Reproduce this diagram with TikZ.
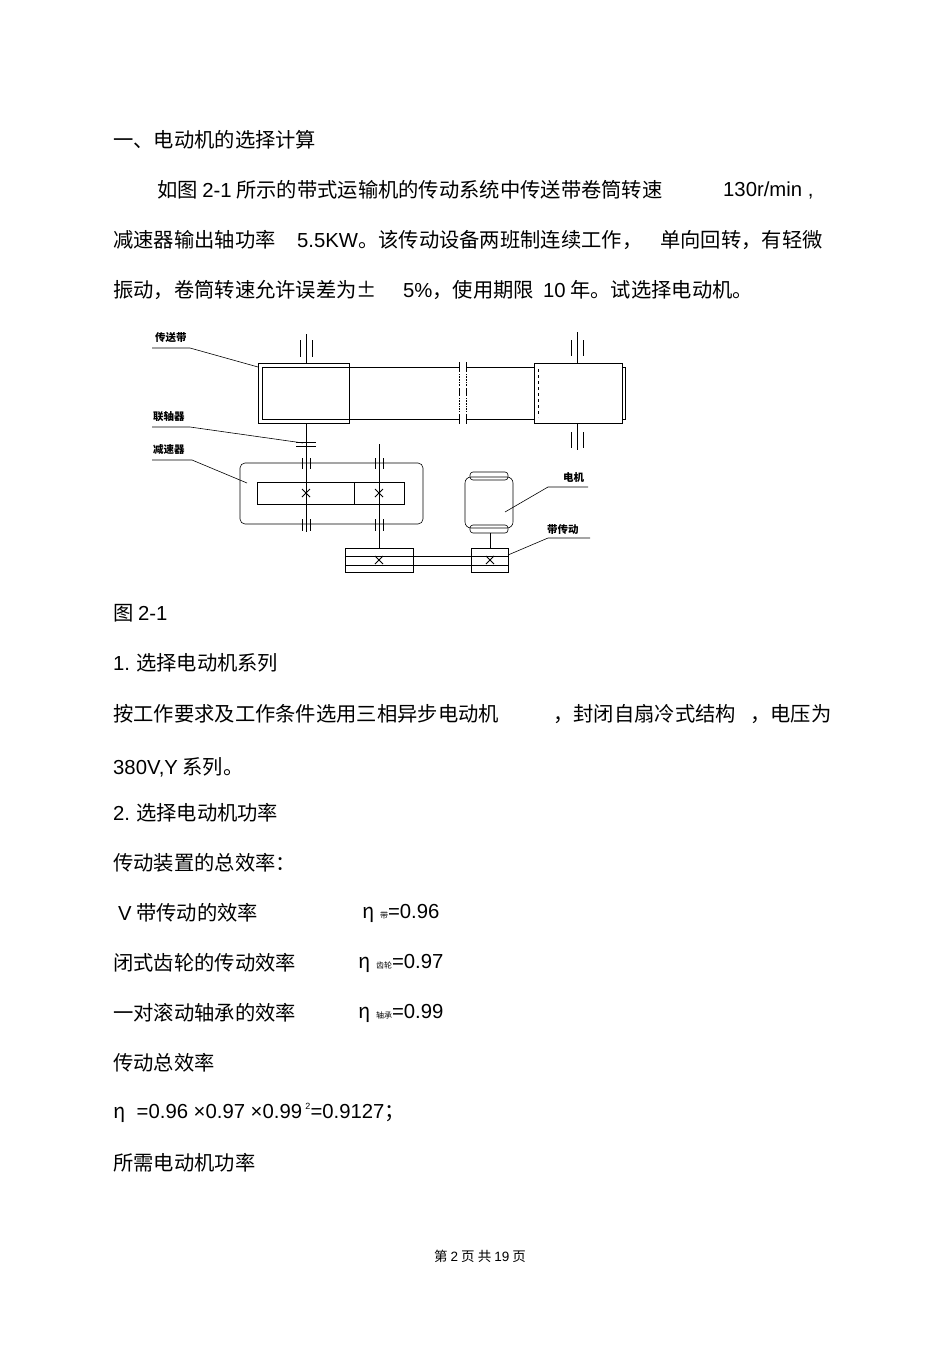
\documentclass[tikz,border=0pt]{standalone}
\usepackage{fontspec}
\setmainfont{Noto Sans CJK SC}
\newfontfamily\lat{Liberation Sans}
\begin{document}
\begin{tikzpicture}[x=1pt,y=-1pt,
  t/.style={anchor=west,inner sep=0pt,font=\fontsize{20.3}{20}\selectfont},
  lb/.style={anchor=west,inner sep=0pt,font=\fontsize{10.5}{10}\selectfont\bfseries},
  ln/.style={line width=0.9pt},
  thin/.style={line width=0.6pt},
  crs/.style={line width=0.9pt}]
\useasboundingbox[fill=white] (0,0) rectangle (950,1346);
% text
\node[t] (l1) at (113,140) {一、电动机的选择计算};
\node[t] (l2a) at (157,190) {如图 {\lat 2-1} 所示的带式运输机的传动系统中传送带卷筒转速};
\node[t] (l2b) at (723,190) {\lat 130r/min ,};
\node[t] (l3a) at (113,240) {减速器输出轴功率};
\node[t] (l3b) at (297,240) {{\lat 5.5KW}。该传动设备两班制连续工作，};
\node[t] (l3c) at (660,240) {单向回转，有轻微};
\node[t] (l4a) at (113,290) {振动，卷筒转速允许误差为±};
\node[t] (l4b) at (403,290) {{\lat 5\%}，使用期限};
\node[t] (l4c) at (543,290) {{\lat 10} 年。试选择电动机。};
\node[t] (f) at (113,613) {图 {\lat 2-1}};
\node[t] (s1) at (113,663) {{\lat 1.} 选择电动机系列};
\node[t] (p1a) at (113,714) {按工作要求及工作条件选用三相异步电动机};
\node[t] (p1b) at (553,714) {，封闭自扇冷式结构};
\node[t] (p1c) at (750,714) {，电压为};
\node[t] (p2) at (113,767) {{\lat 380V,Y} 系列。};
\node[t] (s2) at (113,813) {{\lat 2.} 选择电动机功率};
\node[t] (p3) at (113,863) {传动装置的总效率：};
\node[t] (e1) at (118,913) {{\lat V} 带传动的效率};
\node[t] (e1b) at (362,913) {η\;{\fontsize{8}{8}\selectfont 带}{\lat =0.96}};
\node[t] (e2) at (113,963) {闭式齿轮的传动效率};
\node[t] (e2b) at (358,963) {η\;{\fontsize{8}{8}\selectfont 齿轮}{\lat =0.97}};
\node[t] (e3) at (113,1013) {一对滚动轴承的效率};
\node[t] (e3b) at (358,1013) {η\;{\fontsize{8}{8}\selectfont 轴承}{\lat =0.99}};
\node[t] (e4) at (113,1063) {传动总效率};
\node[t] (e5) at (113,1113) {η\;\;{\lat =0.96 ×0.97 ×0.99\,\raisebox{9pt}{\fontsize{9}{9}\selectfont 2}=0.9127}；};
\node[t] (e6) at (113,1163) {所需电动机功率};
\node[inner sep=0pt,font=\fontsize{13.5}{13}\selectfont] (foot) at (480,1256) {第 {\lat 2} 页 共 {\lat 19} 页};
% drums and belt
\draw[ln] (258,363) rectangle (349,423);
\draw[ln] (534,363) rectangle (622,423);
\draw[thin] (622,367) -- (625,367) -- (625,419) -- (622,419);
\draw[thin] (262,367)--(262,419);
\draw[thin,dashed] (262,369)--(262,417) (349,369)--(349,417) (538,369)--(538,417) (622,369)--(622,417);
\draw[thin] (262,367) -- (459,367) (466,367) -- (534,367);
\draw[thin] (262,419) -- (459,419) (466,419) -- (534,419);
\draw[thin] (459,362)--(459,372) (466,362)--(466,372) (459,414)--(459,424) (466,414)--(466,424);
\draw[thin] (459,388)--(459,396) (466,388)--(466,396);
\draw[thin,densely dotted] (459,374)--(459,386) (466,374)--(466,386) (459,398)--(459,412) (466,398)--(466,412);
% drum shafts
\draw[thin] (306,334)--(306,363) (300,340)--(300,357) (312,340)--(312,357);
\draw[thin] (577,332)--(577,363) (571,340)--(571,356) (583,340)--(583,356);
\draw[thin] (577,423)--(577,450) (571,432)--(571,448) (583,432)--(583,448);
% coupling and shaft 1
\draw[thin] (306,423)--(306,532);
\draw[ln] (296,442)--(316,442) (296,446)--(316,446);
% gearbox
\draw[thin,rounded corners=5pt] (240,463) rectangle (423,524);
\draw[thin] (257,482) rectangle (404,504) (354,482)--(354,504);
\draw[thin] (379,444)--(379,548);
\foreach \x in {302,310,375,383}{\draw[thin] (\x,458)--(\x,469) (\x,519)--(\x,531);}
\foreach \cx/\cy in {306/493,379/493,379/560,490/560}{\draw[crs] (\cx-4,\cy-4)--(\cx+4,\cy+4) (\cx-4,\cy+4)--(\cx+4,\cy-4);}
% belt drive
\draw[thin] (345,548) rectangle (413,572) (471,548) rectangle (508,572);
\draw[thin] (345,556)--(508,556) (345,565)--(508,565);
% motor
\draw[thin,rounded corners=6pt] (465,477) rectangle (513,528);
\draw[thin,rounded corners=3pt] (470,472) rectangle (508,480);
\draw[thin,rounded corners=3pt] (470,525) rectangle (508,533);
\draw[thin] (490,533)--(490,548);
% labels
\node[lb] (la) at (155,338) {传送带};
\node[lb] (lb2) at (153,417) {联轴器};
\node[lb] (lc) at (153,450) {减速器};
\node[lb] (ld) at (563,478) {电机};
\node[lb] (le) at (547,530) {带传动};
\draw[thin] (152,348)--(190,348)--(258,367);
\draw[thin] (152,427)--(190,427)--(303,443);
\draw[thin] (152,460)--(192,460)--(247,483);
\draw[thin] (505,512)--(548,487)--(588,487);
\draw[thin] (508,555)--(548,538)--(590,538);
\end{tikzpicture}
\end{document}
